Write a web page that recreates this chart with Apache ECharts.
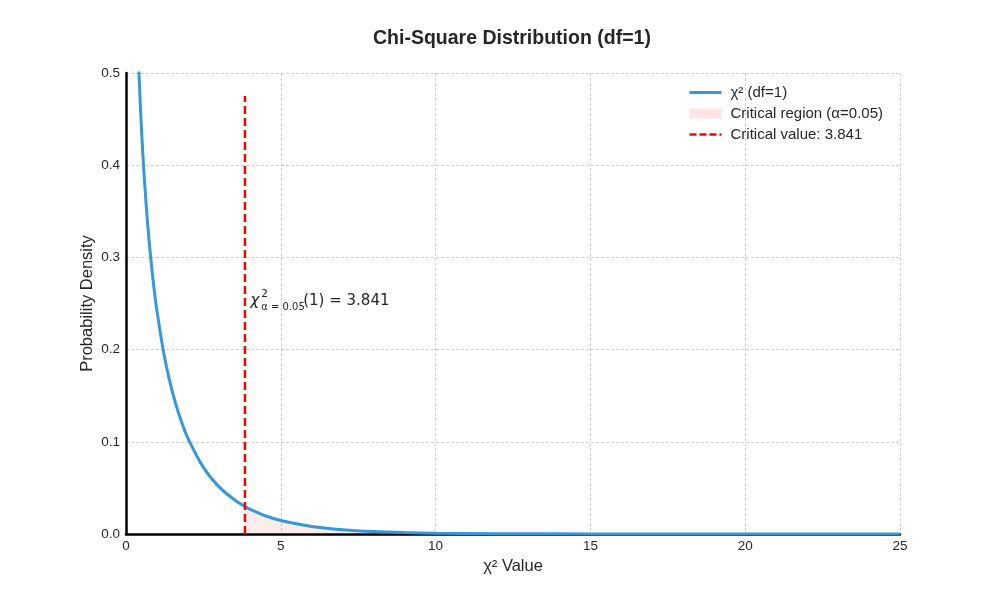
<!DOCTYPE html>
<html>
<head>
<meta charset="utf-8">
<script src="https://cdn.jsdelivr.net/npm/echarts@6/dist/echarts.min.js"></script>
<style>
  html, body { margin: 0; padding: 0; background: #fff; }
  #chart { width: 1000px; height: 600px; }
</style>
</head>
<body>
<div id="chart"></div>
<script>
// chi-square df=1 density
const xValues = [0.4, 0.45, 0.5, 0.55, 0.6, 0.7, 0.8, 0.9, 1.0, 1.2, 1.4, 1.6, 1.8, 2.0, 2.5, 3.0, 3.5, 3.841, 4.0, 4.5, 5, 6, 7, 8, 9, 10, 12, 15, 20, 25];
const density = [0.5164, 0.4749, 0.4394, 0.4086, 0.3815, 0.3360, 0.2990, 0.2681, 0.2420, 0.1999, 0.1674, 0.1417, 0.1209, 0.1038, 0.0723, 0.0514, 0.0371, 0.0298, 0.0270, 0.0198, 0.0146, 0.0081, 0.0046, 0.0026, 0.0015, 0.00085, 0.0003, 0.00006, 0.000004, 0];
const criticalValue = 3.841;
const criticalLineTop = 0.475;
const xTicks = [0, 5, 10, 15, 20, 25];
const yTicks = [0, 0.1, 0.2, 0.3, 0.4, 0.5];

const curve = xValues.map((x, i) => [x, density[i]]);
const region = curve.filter(p => p[0] >= criticalValue);

const font = '"Liberation Sans", Arial, sans-serif';
const chart = echarts.init(document.getElementById('chart'));

const hideSymbol = { color: 'transparent', borderColor: 'transparent', borderWidth: 0 };

const option = {
  backgroundColor: '#fff',
  animation: false,
  title: {
    text: 'Chi-Square Distribution (df=1)',
    left: 373,
    top: 29,
    padding: 0,
    textStyle: { fontFamily: font, fontSize: 19.5, fontWeight: 'bold', color: '#262626' }
  },
  legend: {
    orient: 'vertical',
    left: 688,
    top: 85,
    padding: 0,
    itemWidth: 32,
    itemHeight: 10,
    itemGap: 6,
    textStyle: { fontFamily: font, fontSize: 15, color: '#262626', padding: [0, 0, 0, 4] },
    data: [
      { name: 'χ² (df=1)', itemStyle: hideSymbol, lineStyle: { color: '#3498db', width: 3 } },
      { name: 'Critical region (α=0.05)', icon: 'rect', itemStyle: { color: 'rgba(231,76,60,0.15)' } },
      { name: 'Critical value: 3.841', itemStyle: hideSymbol, lineStyle: { color: '#ff0000', width: 2.5, type: [7, 3] } }
    ]
  },
  grid: { left: 126, right: 100, top: 73, bottom: 66 },
  xAxis: {
    type: 'value',
    min: xTicks[0],
    max: xTicks[xTicks.length - 1],
    interval: 5,
    name: 'χ² Value',
    nameLocation: 'middle',
    nameGap: 24,
    nameMoveOverlap: false,
    nameTextStyle: { fontFamily: font, fontSize: 16.5, color: '#262626' },
    axisLine: { lineStyle: { color: '#000', width: 2.5 } },
    axisTick: { show: false },
    axisLabel: { fontFamily: font, fontSize: 13.5, color: '#262626', margin: 5 },
    splitLine: { lineStyle: { color: '#c4c4c4', type: [3, 2], width: 0.8 } }
  },
  yAxis: {
    type: 'value',
    min: yTicks[0],
    max: yTicks[yTicks.length - 1],
    interval: 0.1,
    name: 'Probability Density',
    nameLocation: 'middle',
    nameGap: 30,
    nameMoveOverlap: false,
    nameTextStyle: { fontFamily: font, fontSize: 16.5, color: '#262626' },
    axisLine: { show: true, lineStyle: { color: '#000', width: 2.5 } },
    axisTick: { show: false },
    axisLabel: { fontFamily: font, fontSize: 13.5, color: '#262626', margin: 6, formatter: v => v.toFixed(1) },
    splitLine: { lineStyle: { color: '#c4c4c4', type: [3, 2], width: 0.8 } }
  },
  series: [
    {
      name: 'Critical region (α=0.05)',
      type: 'line',
      data: region,
      smooth: 0.3,
      symbol: 'none',
      lineStyle: { width: 0 },
      itemStyle: { color: 'rgba(231,76,60,0.15)' },
      areaStyle: { color: 'rgba(231,76,60,0.15)' },
      z: 1
    },
    {
      name: 'χ² (df=1)',
      type: 'line',
      data: curve,
      smooth: 0.3,
      symbol: 'none',
      clip: true,
      color: '#3498db',
      lineStyle: { width: 3, color: '#3498db' },
      z: 3
    },
    {
      name: 'Critical value: 3.841',
      type: 'line',
      data: [[criticalValue, 0], [criticalValue, criticalLineTop]],
      symbol: 'none',
      color: '#ff0000',
      lineStyle: { width: 2.5, color: '#ff0000', type: [8, 4] },
      z: 4
    }
  ]
};

chart.setOption(option);

// annotation next to the critical line
const p = chart.convertToPixel({ gridIndex: 0 }, [criticalValue + 0.17, 0.253]);
const mathFont = '"DejaVu Sans", sans-serif';
chart.setOption({
  graphic: [
    { type: 'text', x: p[0], y: p[1], style: { text: 'χ', font: 'italic 15.5px ' + mathFont, fill: '#262626', verticalAlign: 'middle' } },
    { type: 'text', x: p[0] + 11, y: p[1] - 6, style: { text: '2', font: '10.5px ' + mathFont, fill: '#262626', verticalAlign: 'middle' } },
    { type: 'text', x: p[0] + 11, y: p[1] + 7, style: { text: 'α = 0.05', font: '10px ' + mathFont, fill: '#262626', verticalAlign: 'middle' } },
    { type: 'text', x: p[0] + 53, y: p[1], style: { text: '(1) = 3.841', font: '15px ' + mathFont, fill: '#262626', verticalAlign: 'middle' } }
  ]
});

window.addEventListener('resize', () => chart.resize());
</script>
</body>
</html>
